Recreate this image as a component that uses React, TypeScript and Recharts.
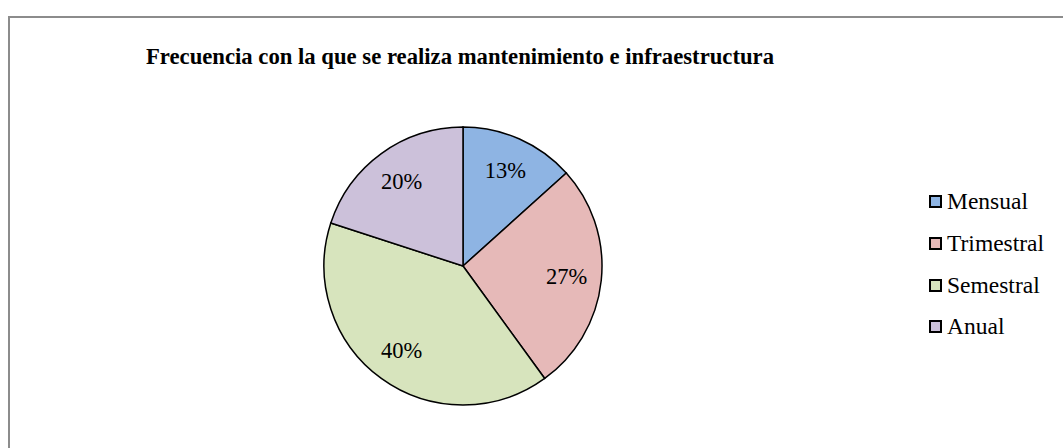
import { PieChart, Pie, Cell, Legend } from 'recharts'

const categories = ['Mensual', 'Trimestral', 'Semestral', 'Anual']
const counts = [2, 4, 6, 3]
const colors = ['#8EB4E3', '#E6B9B8', '#D7E4BD', '#CCC1DA']
const title = 'Frecuencia con la que se realiza mantenimiento e infraestructura'

const data = categories.map((name, i) => ({ name, value: counts[i] }))

const FONT = '"Liberation Serif", "Times New Roman", serif'
const RADIAN = Math.PI / 180

const renderLabel = (props: any) => {
	const { cx, cy, midAngle, outerRadius, percent } = props
	const r = outerRadius * 0.75
	const x = cx + r * Math.cos(-midAngle * RADIAN)
	const y = cy + r * Math.sin(-midAngle * RADIAN)
	return (
		<text x={x} y={y} textAnchor="middle" dominantBaseline="central" fontFamily={FONT} fontSize={22.5} fill="#000">
			{`${Math.round(percent * 100)}%`}
		</text>
	)
}

// legend keeps the original order (recharts sorts the payload by name)
const renderLegend = () => (
	<div style={{ fontFamily: FONT, fontSize: 23.5, color: '#000' }}>
		{categories.map((c, i) => (
			<div key={c} style={{ height: 41.7, display: 'flex', alignItems: 'center' }}>
				<span
					style={{
						display: 'inline-block',
						width: 9,
						height: 9,
						background: colors[i],
						border: '2px solid #000',
						marginRight: 5,
					}}
				/>
				<span>{c}</span>
			</div>
		))}
	</div>
)

export default function App() {
	return (
		<div style={{ position: 'relative', width: 1063, height: 448, overflow: 'hidden', background: '#fff' }}>
			<style>{'body{margin:0}'}</style>
			<div
				style={{
					position: 'absolute',
					left: 8,
					top: 16,
					width: 1100,
					height: 500,
					borderTop: '2px solid #8c8c8c',
					borderLeft: '2px solid #8c8c8c',
				}}
			/>
			<div
				style={{
					position: 'absolute',
					left: 0,
					top: 44,
					width: 920,
					textAlign: 'center',
					fontFamily: FONT,
					fontWeight: 'bold',
					fontSize: 22.7,
					color: '#000',
				}}
			>
				{title}
			</div>
			<div style={{ position: 'absolute', left: 0, top: 0 }}>
				<PieChart width={1063} height={448} margin={{ top: 0, right: 0, bottom: 0, left: 0 }}>
					<Pie
						data={data}
						dataKey="value"
						nameKey="name"
						cx={463}
						cy={266}
						outerRadius={139}
						startAngle={90}
						endAngle={-270}
						stroke="#000"
						strokeWidth={1.5}
						label={renderLabel}
						labelLine={false}
						isAnimationActive={false}
					>
						{data.map((entry, index) => (
							<Cell key={`cell-${index}`} fill={colors[index % colors.length]} />
						))}
					</Pie>
					<Legend
						layout="vertical"
						align="right"
						verticalAlign="middle"
						content={renderLegend}
						wrapperStyle={{ left: 929, top: 181, width: 134 }}
					/>
				</PieChart>
			</div>
		</div>
	)
}
